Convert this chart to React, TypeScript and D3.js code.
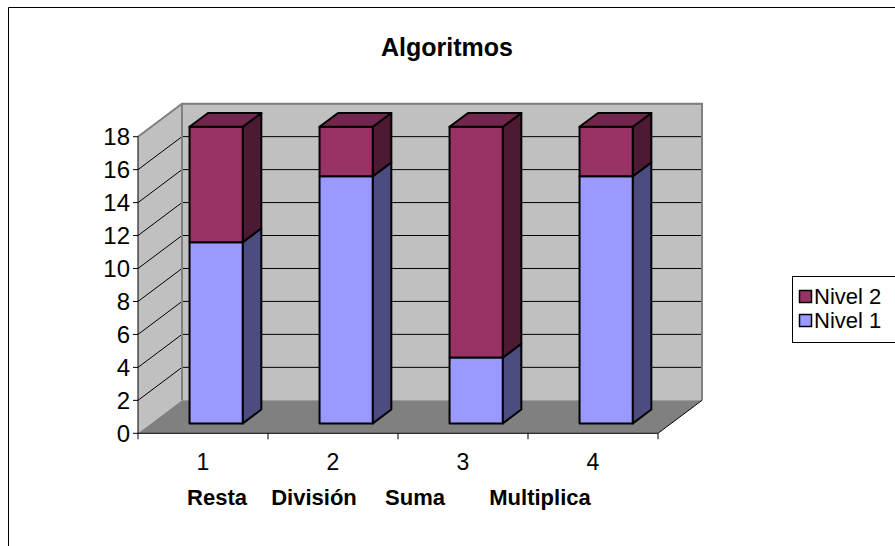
import React from "react";
import * as d3 from "d3";

const categories = ["1", "2", "3", "4"];
const nivel1 = [11, 15, 4, 15];
const nivel2 = [7, 3, 14, 3];
const yTicks = [0, 2, 4, 6, 8, 10, 12, 14, 16, 18];
const axisTitleWords = ["Resta", "División", "Suma", "Multiplica"];
const axisTitleX = [217, 314, 415, 540];
const seriesNames = ["Nivel 2", "Nivel 1"];
const title = "Algoritmos";

const W = 895;
const H = 546;
const FX0 = 138;
const FX1 = 658;
const DX = 44;
const DY = -33;
const Z0 = 0.3;
const Z1 = 0.72;

const colors = {
  n1: { front: "#9999ff", side: "#4c4c80", top: "#7373bf" },
  n2: { front: "#993366", side: "#4d1933", top: "#73264d" },
};

export default function App() {
  const y = d3.scaleLinear().domain([0, 18]).range([433.3, 136.7]);
  const x = d3
    .scaleBand<string>()
    .domain(categories)
    .range([FX0, FX1])
    .paddingInner(0.59)
    .paddingOuter(0.295);
  const bx = x.step();
  const by0 = y(0);
  const byTop = y(18);

  const pts = (p: number[][]) => p.map((q) => q.join(",")).join(" ");

  const segment = (
    cat: string,
    v0: number,
    v1: number,
    c: { front: string; side: string; top: string },
    drawTop: boolean,
    key: string
  ) => {
    const x0 = (x(cat) as number) + DX * Z0;
    const x1 = x0 + x.bandwidth();
    const yb = y(v0) + DY * Z0;
    const yt = y(v1) + DY * Z0;
    const ddx = DX * (Z1 - Z0);
    const ddy = DY * (Z1 - Z0);
    return (
      <g key={key} stroke="#000" strokeWidth={2} strokeLinejoin="round">
        <polygon points={pts([[x0, yt], [x1, yt], [x1, yb], [x0, yb]])} fill={c.front} />
        <polygon
          points={pts([[x1, yt], [x1 + ddx, yt + ddy], [x1 + ddx, yb + ddy], [x1, yb]])}
          fill={c.side}
        />
        {drawTop && (
          <polygon
            points={pts([[x0, yt], [x1, yt], [x1 + ddx, yt + ddy], [x0 + ddx, yt + ddy]])}
            fill={c.top}
          />
        )}
      </g>
    );
  };

  return (
    <svg
      width={W}
      height={H}
      style={{ position: "absolute", left: 0, top: 0, fontFamily: "Arial, 'Liberation Sans', sans-serif" }}
    >
      <rect x={0} y={0} width={W} height={H} fill="#fff" />
      {/* chart area border */}
      <line x1={8.5} y1={7.5} x2={W} y2={7.5} stroke="#000" />
      <line x1={8.5} y1={7.5} x2={8.5} y2={H} stroke="#000" />

      <text x={447} y={56} textAnchor="middle" fontSize={25} fontWeight="bold">
        {title}
      </text>

      {/* side wall */}
      <polygon
        points={pts([[FX0, byTop], [FX0 + DX, byTop + DY], [FX0 + DX, by0 + DY], [FX0, by0]])}
        fill="#c0c0c0"
      />
      {/* back wall */}
      <rect x={FX0 + DX} y={byTop + DY} width={FX1 - FX0} height={by0 - byTop} fill="#c0c0c0" />
      {/* floor */}
      <polygon
        points={pts([[FX0, by0], [FX0 + DX, by0 + DY], [FX1 + DX, by0 + DY], [FX1, by0]])}
        fill="#808080"
      />
      {/* gridlines */}
      {yTicks
        .filter((t) => t > 0)
        .map((t) => (
          <g key={"g" + t} stroke="#000" strokeWidth={1}>
            <line x1={FX0} y1={y(t)} x2={FX0 + DX} y2={y(t) + DY} />
            <line x1={FX0 + DX} y1={y(t) + DY} x2={FX1 + DX} y2={y(t) + DY} />
          </g>
        ))}
      {/* wall edges */}
      <g stroke="#808080" strokeWidth={2} fill="none">
        <polyline
          points={pts([
            [FX0, byTop],
            [FX0 + DX, byTop + DY],
            [FX1 + DX, byTop + DY],
            [FX1 + DX, by0 + DY],
          ])}
        />
        <line x1={FX0 + DX} y1={byTop + DY} x2={FX0 + DX} y2={by0 + DY} />
      </g>
      <line x1={FX1} y1={by0} x2={FX1 + DX} y2={by0 + DY} stroke="#000" strokeWidth={1} />

      {/* bars */}
      {categories.map((c, i) => (
        <g key={"bar" + c}>
          {segment(c, 0, nivel1[i], colors.n1, false, "a")}
          {segment(c, nivel1[i], nivel1[i] + nivel2[i], colors.n2, true, "b")}
        </g>
      ))}

      {/* axes */}
      <g stroke="#000" strokeWidth={1}>
        <line x1={FX0} y1={byTop} x2={FX0} y2={by0} />
        <line x1={FX0} y1={by0} x2={FX1} y2={by0} />
        {yTicks.map((t) => (
          <line key={"yt" + t} x1={FX0 - 5} y1={y(t)} x2={FX0} y2={y(t)} />
        ))}
        {d3.range(categories.length + 1).map((k) => (
          <line key={"xt" + k} x1={FX0 + bx * k} y1={by0} x2={FX0 + bx * k} y2={by0 + 6} />
        ))}
      </g>
      {yTicks.map((t) => (
        <text key={"yl" + t} x={130} y={y(t) + 8.5} textAnchor="end" fontSize={24}>
          {t}
        </text>
      ))}
      {categories.map((c) => (
        <text
          key={"xl" + c}
          x={(x(c) as number) + x.bandwidth() / 2}
          y={470}
          textAnchor="middle"
          fontSize={23}
        >
          {c}
        </text>
      ))}
      {axisTitleWords.map((w, i) => (
        <text key={"at" + i} x={axisTitleX[i]} y={505} textAnchor="middle" fontSize={22} fontWeight="bold">
          {w}
        </text>
      ))}

      {/* legend */}
      <rect x={792.5} y={276.5} width={200} height={66} fill="#fff" stroke="#000" />
      {seriesNames.map((s, i) => (
        <g key={"lg" + s}>
          <rect
            x={799.5}
            y={290.5 + i * 24}
            width={12}
            height={12}
            fill={i === 0 ? colors.n2.front : colors.n1.front}
            stroke="#000"
            strokeWidth={1.5}
          />
          <text x={814} y={303.5 + i * 24} fontSize={22}>
            {s}
          </text>
        </g>
      ))}
    </svg>
  );
}
